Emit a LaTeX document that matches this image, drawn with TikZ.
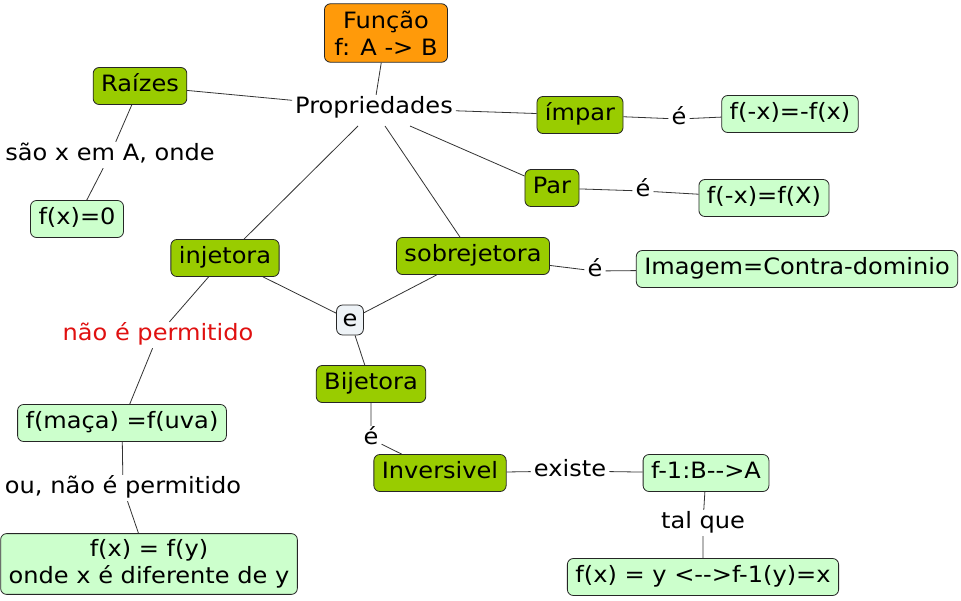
\documentclass[tikz,border=0pt]{standalone}
\usepackage{fontspec}
\setmainfont{DejaVu Sans}[FakeStretch=1.07]
\definecolor{cgreen}{HTML}{99CC00}
\definecolor{clight}{HTML}{CCFFCC}
\definecolor{corange}{HTML}{FF9A0A}
\definecolor{cgray}{HTML}{EEF3F7}
\definecolor{cred}{HTML}{E01010}
\definecolor{cline}{HTML}{333333}
\tikzset{
  base/.style={font=\fontsize{22.5}{27}\selectfont, text height=16.5pt, text depth=5.5pt, inner xsep=8pt, inner ysep=7.5pt},
  box/.style={base, draw=black!85, line width=0.8pt, rounded corners=6pt},
  gbox/.style={box, fill=cgreen},
  lbox/.style={box, fill=clight},
  obox/.style={box, fill=corange, align=center},
  ebox/.style={box, fill=cgray, inner xsep=6pt, text height=13pt, text depth=1pt, inner ysep=8pt},
  lab/.style={base, inner xsep=3pt, inner ysep=2pt},
  conn/.style={draw=cline, line width=0.8pt}
}
\begin{document}
\begin{tikzpicture}[x=1pt,y=-1pt]
\useasboundingbox[fill=white] (0,0) rectangle (961,600);
% nodes
\node[obox, text height=, text depth=, inner ysep=7pt, inner xsep=10pt] (func) at (386,33) {Função\\f: A -> B};
\node[lab] (prop) at (374,108) {Propriedades};
\node[gbox] (raiz) at (140,86) {Raízes};
\node[lab] (lraiz) at (110,155) {são x em A, onde};
\node[lbox] (fx0) at (77,219) {f(x)=0};
\node[gbox] (impar) at (580,115) {ímpar};
\node[lab] (eimp) at (679,119) {é};
\node[lbox] (fimp) at (790,114) {f(-x)=-f(x)};
\node[gbox] (par) at (552,188) {Par};
\node[lab] (epar) at (643,191) {é};
\node[lbox] (fpar) at (764,198) {f(-x)=f(X)};
\node[gbox] (inj) at (225,258) {injetora};
\node[gbox] (sob) at (473,256) {sobrejetora};
\node[lab] (esob) at (595,271) {é};
\node[lbox] (img) at (797,269) {Imagem=Contra-dominio};
\node[ebox] (e) at (350,320) {e};
\node[lab, text=cred] (naoe) at (158,335) {não é permitido};
\node[gbox] (bij) at (371,384) {Bijetora};
\node[lbox] (fmaca) at (122,423) {f(maça) =f(uva)};
\node[lab] (ou) at (123,488) {ou, não é permitido};
\node[lbox, align=center, text height=, text depth=, inner ysep=6pt] (fxy) at (149,564) {f(x) = f(y)\\onde x é diferente de y};
\node[lab] (ebij) at (371,439) {é};
\node[gbox] (inv) at (440,473) {Inversivel};
\node[lab] (exis) at (570,471) {existe};
\node[lbox] (finv) at (706,473) {f-1:B-{}->A};
\node[lab] (tal) at (703,523) {tal que};
\node[lbox] (fxe) at (703,577) {f(x) = y <-{}->f-1(y)=x};
% connectors
\coordinate (pp) at (410,126);
\coordinate (pi) at (358,126);
\coordinate (ps) at (385,126);
\draw[conn] (func) -- (prop);
\draw[conn] (raiz) -- (prop);
\draw[conn] (prop) -- (impar);
\draw[conn] (pp) -- (par);
\draw[conn] (pi) -- (inj);
\draw[conn] (ps) -- ([xshift=-13pt]sob.north);
\draw[conn] (raiz) -- (lraiz) -- (fx0);
\draw[conn] (impar) -- (eimp) -- (fimp);
\draw[conn] (par) -- (epar) -- (fpar);
\draw[conn] (sob) -- (esob) -- (img);
\draw[conn] (inj) -- (e) -- (sob);
\draw[conn] (e) -- (bij);
\draw[conn] (inj) -- (naoe) -- (fmaca);
\draw[conn] (fmaca) -- (ou) -- (fxy);
\draw[conn] (bij) -- (ebij) -- (inv);
\draw[conn] (inv) -- (exis) -- (finv);
\draw[conn] (finv) -- (tal) -- (fxe);
\end{tikzpicture}
\end{document}
